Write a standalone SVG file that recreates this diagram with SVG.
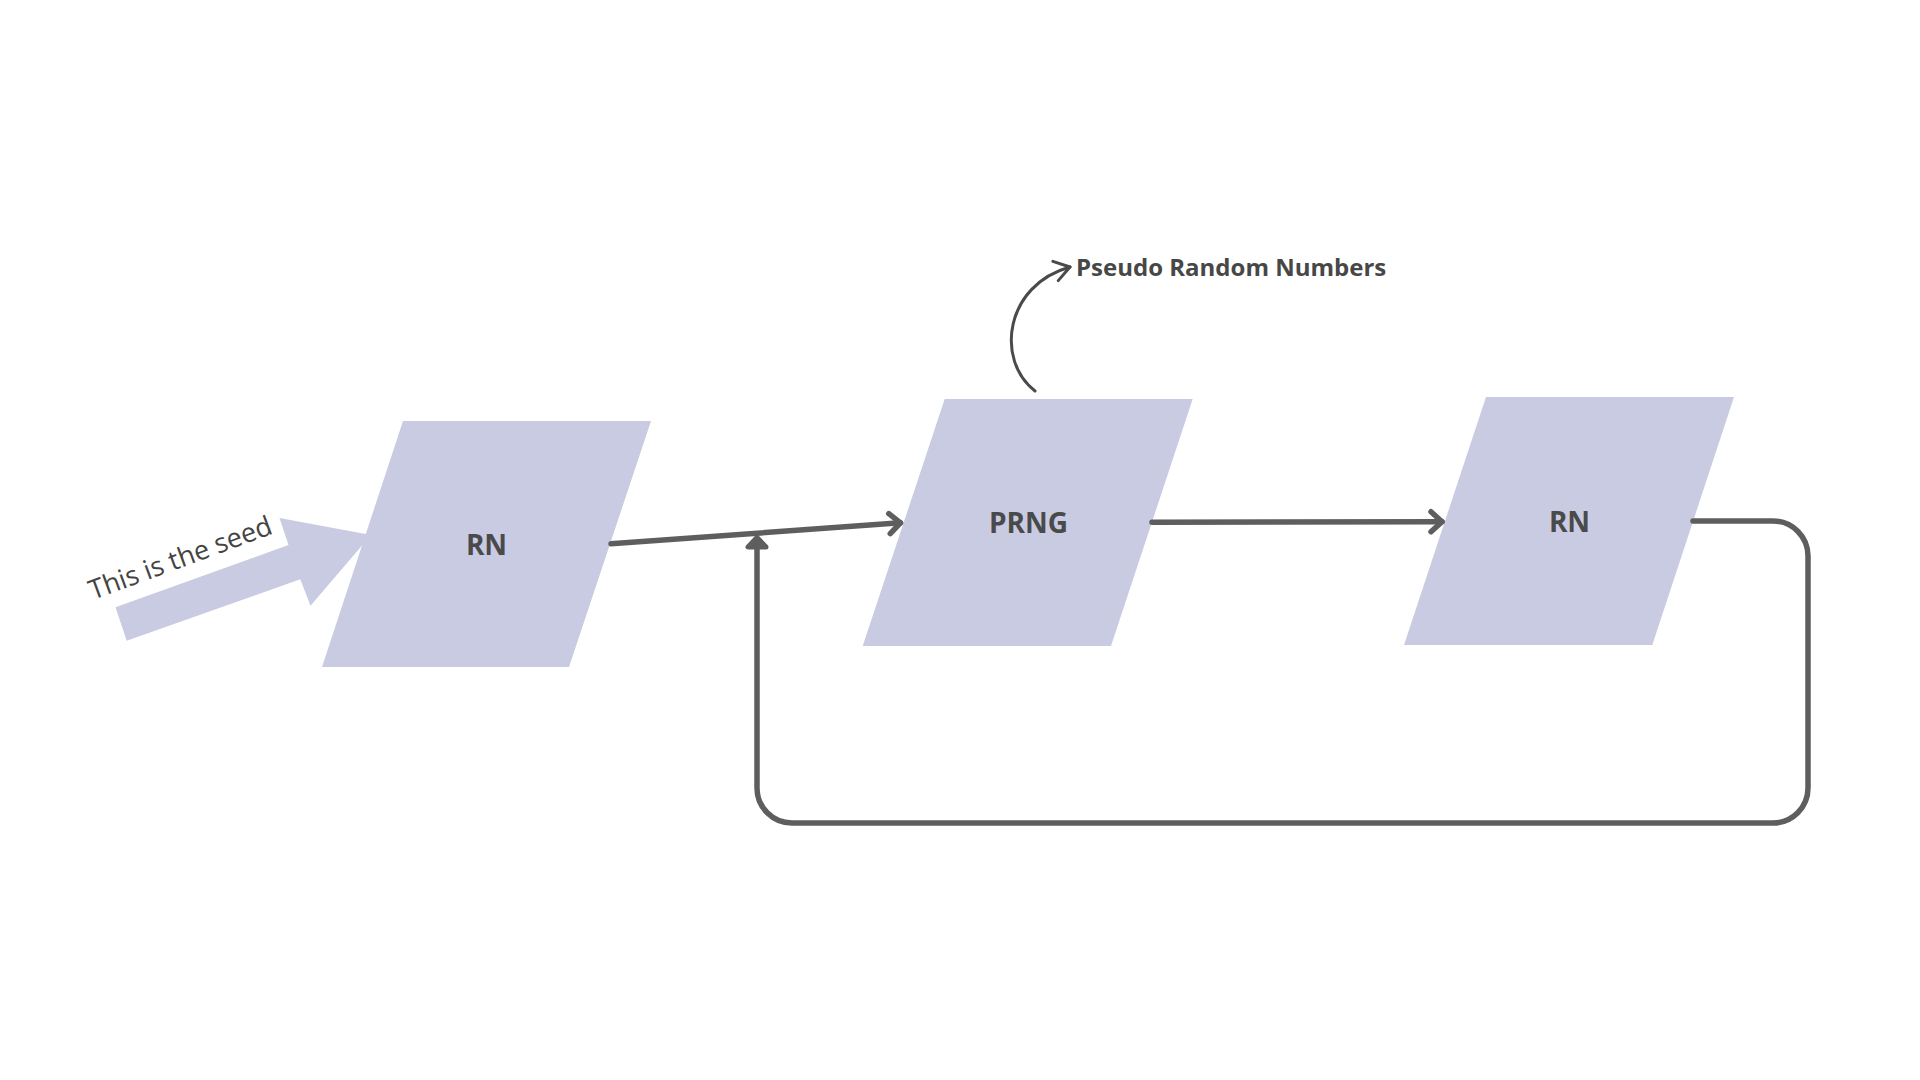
<svg xmlns="http://www.w3.org/2000/svg" width="1920" height="1080" viewBox="0 0 1920 1080">
  <style>
    .shape { fill: #c8cbe2; stroke: none; }
    .label { font-family: "Open Sans", "Liberation Sans", sans-serif; font-weight: 700; font-size: 28px; fill: #4a4a4a; text-anchor: middle; }
    .note { font-family: "Open Sans", "Liberation Sans", sans-serif; font-weight: 700; font-size: 24px; fill: #474747; }
    .seedtext { font-family: "Open Sans", "Liberation Sans", sans-serif; font-weight: 400; font-size: 27px; fill: #444444; }
    .conn { fill: none; stroke: #5e5e5e; stroke-width: 5.5; stroke-linecap: round; stroke-linejoin: round; }
    .thin { fill: none; stroke: #4a4a4a; stroke-width: 3; stroke-linecap: round; stroke-linejoin: round; }
  </style>
  <defs>
    <marker id="chev" markerUnits="userSpaceOnUse" viewBox="-20 -16 26 32" refX="0" refY="0" markerWidth="26" markerHeight="32" orient="auto" overflow="visible">
      <path d="M-11,-10 L0,0 L-11,10" fill="none" stroke="#5e5e5e" stroke-width="5.5" stroke-linecap="round" stroke-linejoin="round"/>
    </marker>
    <marker id="chevThin" markerUnits="userSpaceOnUse" viewBox="-22 -16 28 32" refX="0" refY="0" markerWidth="28" markerHeight="32" orient="auto" overflow="visible">
      <path d="M-15,-10 L0,0 L-15,10" fill="none" stroke="#4a4a4a" stroke-width="3" stroke-linecap="round" stroke-linejoin="round"/>
    </marker>
  </defs>
  <rect width="1920" height="1080" fill="#ffffff"/>

  <g id="seed-arrow">
    <polygon class="shape" points="126.7,640.7 115.5,607.3 288.5,545 279.5,518 371,535 310.5,605.8 300.3,579.3"/>
    <text class="seedtext" x="93" y="600" transform="rotate(-20.2 93 600)">This is the seed</text>
  </g>

  <g id="node-rn1">
    <polygon class="shape" points="403,421 651,421 569,667 322,667"/>
    <text class="label" x="486.5" y="555">RN</text>
  </g>

  <g id="node-prng">
    <polygon class="shape" points="944.7,399 1192.7,399 1111,646 862.7,646"/>
    <text class="label" x="1028.5" y="533">PRNG</text>
  </g>

  <g id="node-rn2">
    <polygon class="shape" points="1486,397 1734,397 1652.3,645 1404,645"/>
    <text class="label" x="1569.5" y="532">RN</text>
  </g>

  <g id="annotation">
    <text class="note" x="1076" y="275.7">Pseudo Random Numbers</text>
  </g>

  <g id="connectors">
    <path class="conn" d="M611,543.7 L900.5,522.8" marker-end="url(#chev)"/>
    <path class="conn" d="M1152,522.3 L1442,521.7" marker-end="url(#chev)"/>
    <path class="conn" d="M1693,521 H1773 A35,35 0 0 1 1808,556 V788 A35,35 0 0 1 1773,823 H792 A35,35 0 0 1 757,788 V547"/>
    <polygon points="757,537.5 748,547 766,547" fill="#5e5e5e" stroke="#5e5e5e" stroke-width="5" stroke-linejoin="round"/>
    <path class="thin" d="M1035,391 C995,360 1005,285 1070,267" marker-end="url(#chevThin)"/>
  </g>
</svg>
